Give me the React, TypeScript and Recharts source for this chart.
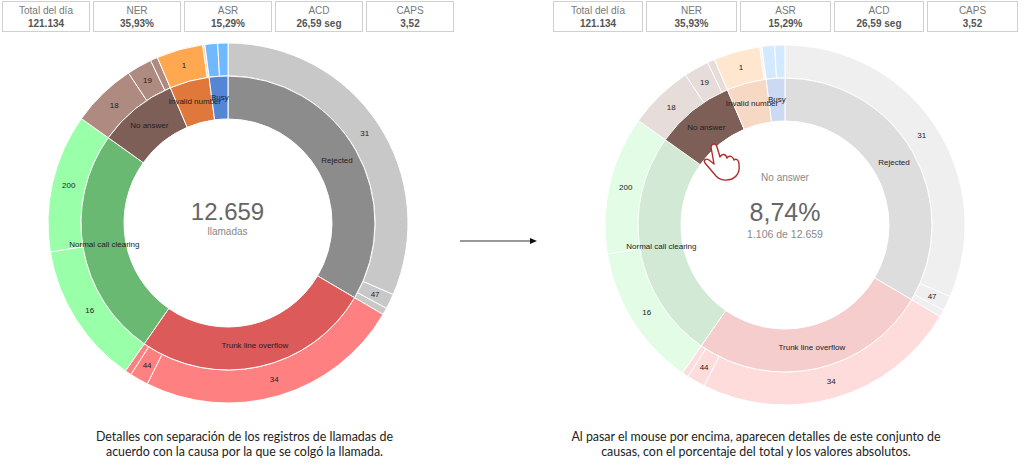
import React from "react";
import { PieChart, Pie, Cell } from "recharts";

const kpiLabels = ["Total del día", "NER", "ASR", "ACD", "CAPS"];
const kpiValues = ["121.134", "35,93%", "15,29%", "26,59 seg", "3,52"];

const causeNames = ["Rejected", "Trunk line overflow", "Normal call clearing", "No answer", "Invalid number", "Busy"];
const causeValues = [4239, 3312, 3190, 1106, 552, 260];

// outer ring: hangup codes inside each cause (the thin slices have no label)
const codeNames = ["31", "47", "", "34", "44", "", "16", "200", "18", "19", "", "1", "", "", ""];
const codeValues = [3988, 172, 79, 3028, 211, 73, 1618, 1572, 738, 285, 83, 527, 25, 144, 116];

const causeColors = ["#8c8c8c", "#dd5a5a", "#69b973", "#7d5f58", "#e0783c", "#5585d5"];
const codeColors = ["#c8c8c8", "#c8c8c8", "#c8c8c8", "#ff8080", "#ff8080", "#ff8080", "#99ffa8", "#99ffa8", "#ae8a80", "#ae8a80", "#ae8a80", "#ffa850", "#ffd2a8", "#70b8ff", "#70b8ff"];

const causeColorsFaded = ["#dddddd", "#f6cdcd", "#d2e9d5", "#7d5f58", "#f7d8c5", "#cbdaf2"];
const codeColorsFaded = ["#efefef", "#efefef", "#efefef", "#ffdcdc", "#ffdcdc", "#ffdcdc", "#e2fce6", "#e2fce6", "#e6dcd9", "#e6dcd9", "#e6dcd9", "#ffe6ce", "#fff0e2", "#d3e9ff", "#d3e9ff"];

const causeData = causeNames.map((name, i) => ({ name, value: causeValues[i] }));
const codeData = codeNames.map((name, i) => ({ name, value: codeValues[i] }));

const FONT = "Liberation Sans, Arial, sans-serif";
const RAD = Math.PI / 180;

function sliceLabel(props: any) {
  const { cx, cy, midAngle, innerRadius, outerRadius, name } = props;
  if (!name) return null;
  const r = (innerRadius + outerRadius) / 2;
  return (
    <text
      x={cx + r * Math.cos(-midAngle * RAD)}
      y={cy + r * Math.sin(-midAngle * RAD)}
      textAnchor="middle"
      dominantBaseline="central"
      fontSize={8}
      fontFamily={FONT}
      fill="#222"
    >
      {name}
    </text>
  );
}

function Rings({ cx, cy, inner, outer }: { cx: number; cy: number; inner: string[]; outer: string[] }) {
  return (
    <PieChart
      width={440}
      height={400}
      margin={{ top: 0, right: 0, bottom: 0, left: 0 }}
      style={{ position: "absolute", left: cx - 220, top: cy - 200 }}
    >
      <Pie
        data={codeData}
        dataKey="value"
        nameKey="name"
        cx={220}
        cy={200}
        innerRadius={147}
        outerRadius={180}
        startAngle={90}
        endAngle={-270}
        stroke="#fff"
        strokeWidth={1}
        label={sliceLabel}
        labelLine={false}
        isAnimationActive={false}
      >
        {codeData.map((d, i) => (
          <Cell key={i} fill={outer[i]} />
        ))}
      </Pie>
      <Pie
        data={causeData}
        dataKey="value"
        nameKey="name"
        cx={220}
        cy={200}
        innerRadius={104}
        outerRadius={147}
        startAngle={90}
        endAngle={-270}
        stroke="#fff"
        strokeWidth={1}
        label={sliceLabel}
        labelLine={false}
        isAnimationActive={false}
      >
        {causeData.map((d, i) => (
          <Cell key={i} fill={inner[i]} />
        ))}
      </Pie>
    </PieChart>
  );
}

function KpiRow({ lefts, rights, top }: { lefts: number[]; rights: number[]; top: number }) {
  return (
    <>
      {kpiLabels.map((label, i) => (
        <div
          key={label}
          style={{
            position: "absolute",
            left: lefts[i],
            top,
            width: rights[i] - lefts[i],
            height: 31,
            boxSizing: "border-box",
            border: "1px solid #d0d0d0",
            textAlign: "center",
            fontFamily: FONT,
            fontSize: 10,
            lineHeight: "12.5px",
            paddingTop: 3,
            color: "#777",
          }}
        >
          {label}
          <div style={{ fontWeight: "bold", color: "#555" }}>{kpiValues[i]}</div>
        </div>
      ))}
    </>
  );
}

function Centered({ x, y, size, color, children }: { x: number; y: number; size: number; color: string; children: string }) {
  return (
    <div
      style={{
        position: "absolute",
        left: x - 100,
        top: y - 20,
        width: 200,
        height: 40,
        lineHeight: "40px",
        textAlign: "center",
        fontFamily: FONT,
        fontSize: size,
        color,
      }}
    >
      {children}
    </div>
  );
}

function Caption({ x, y, children }: { x: number; y: number; children: string }) {
  return (
    <div
      style={{
        position: "absolute",
        left: x - 240,
        top: y - 10,
        width: 480,
        lineHeight: "20px",
        textAlign: "center",
        fontFamily: "Lato, sans-serif",
        fontSize: 12.4,
        color: "#222",
        whiteSpace: "nowrap",
      }}
    >
      {children}
    </div>
  );
}

export default function App() {
  return (
    <div style={{ position: "absolute", left: 0, top: 0, width: 1024, height: 468, background: "#fff", overflow: "hidden" }}>
      <KpiRow lefts={[2, 93, 184, 275, 366]} rights={[90, 181, 272, 363, 454]} top={1} />
      <KpiRow lefts={[553, 646, 740, 834, 927]} rights={[643, 737, 831, 924, 1018]} top={1} />

      <Rings cx={227.5} cy={223} inner={causeColors} outer={codeColors} />
      <Rings cx={785} cy={225} inner={causeColorsFaded} outer={codeColorsFaded} />

      <Centered x={227.5} y={212} size={24} color="#666">12.659</Centered>
      <Centered x={227.5} y={232} size={10} color="#888">llamadas</Centered>

      <Centered x={785} y={178} size={10} color="#888">No answer</Centered>
      <Centered x={785} y={212} size={25} color="#666">8,74%</Centered>
      <Centered x={785} y={234} size={10.5} color="#888">1.106 de 12.659</Centered>

      <Caption x={244.5} y={437}>Detalles con separación de los registros de llamadas de</Caption>
      <Caption x={244.5} y={452}>acuerdo con la causa por la que se colgó la llamada.</Caption>
      <Caption x={756} y={437}>Al pasar el mouse por encima, aparecen detalles de este conjunto de</Caption>
      <Caption x={756} y={452}>causas, con el porcentaje del total y los valores absolutos.</Caption>

      {/* arrow between the two charts and the pointer hand */}
      <svg width={1024} height={468} style={{ position: "absolute", left: 0, top: 0, pointerEvents: "none" }}>
        <line x1={460} y1={241} x2={531} y2={241} stroke="#777" strokeWidth={1.4} />
        <path d="M530 238 L537 241 L530 244 Z" fill="#111" />
        <path
          d="M711 147 C712 143 716 143 717 147 L720 157 C722 153 726 154 727 158 C729 155 733 156 734 160 C736 158 739 160 739 164 C740 170 738 176 732 179 C726 181 720 180 716 176 L705 163 C703 160 706 158 709 160 L714 164 Z"
          fill="#fff"
          stroke="#b52a2a"
          strokeWidth={1.4}
          strokeLinejoin="round"
        />
      </svg>
    </div>
  );
}
